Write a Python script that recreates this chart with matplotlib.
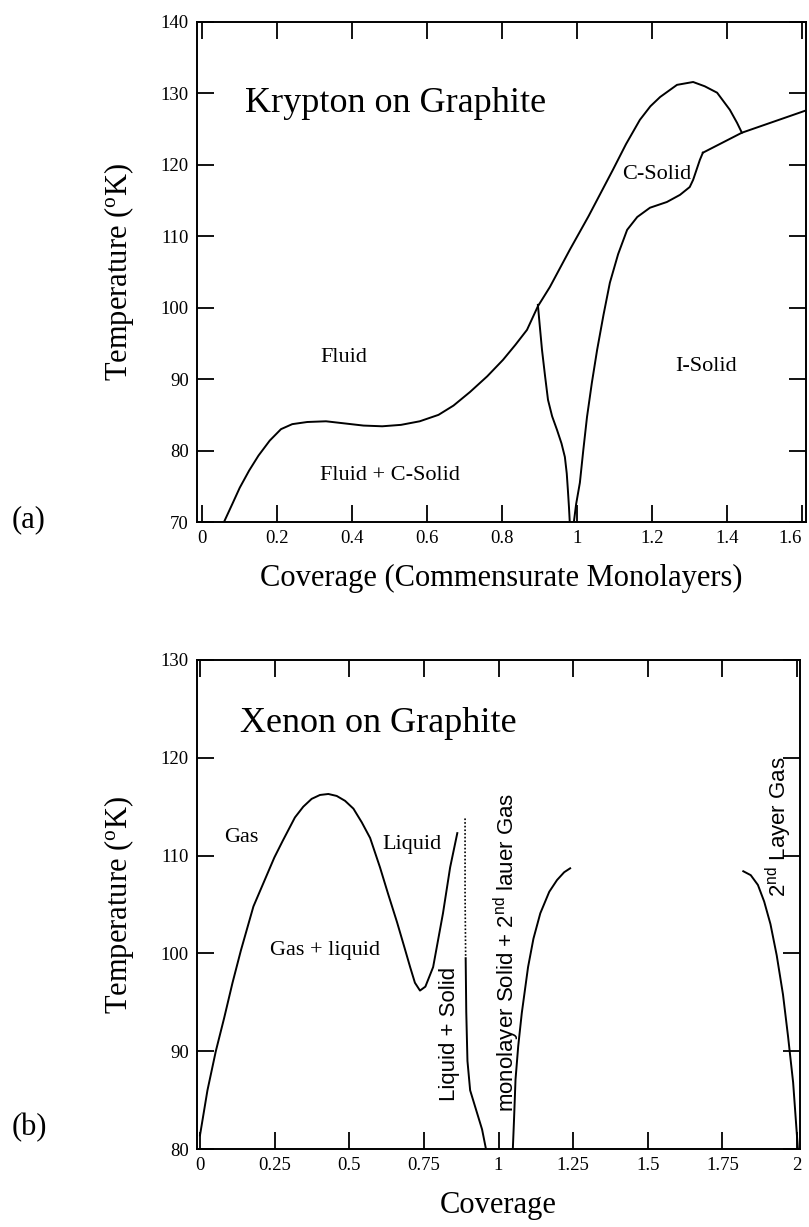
# Phase diagrams of Kr and Xe adsorbed on graphite, two stacked panels.
import matplotlib
matplotlib.use("Agg")
import matplotlib.pyplot as plt
from matplotlib.ticker import FuncFormatter

plt.rcParams["font.family"] = ["Liberation Serif", "DejaVu Serif"]
plt.rcParams["mathtext.default"] = "regular"

# --- Krypton on graphite (panel a)
kr_fluid_x = [0.058, 0.08, 0.10, 0.125, 0.15, 0.18, 0.21, 0.24, 0.28, 0.33,
              0.38, 0.43, 0.48, 0.53, 0.58, 0.63, 0.67, 0.714, 0.76, 0.802,
              0.835, 0.866, 0.895, 0.927, 0.98, 1.03, 1.095, 1.13, 1.167, 1.195,
              1.221, 1.266, 1.309, 1.34, 1.373, 1.407, 1.426, 1.439]
kr_fluid_y = [70, 72.5, 74.8, 77.2, 79.3, 81.4, 83.0, 83.7, 84.0, 84.1,
              83.8, 83.5, 83.4, 83.6, 84.1, 85.0, 86.3, 88.2, 90.4, 92.7,
              94.8, 96.9, 100.2, 102.9, 108.1, 112.8, 119.3, 122.9, 126.3, 128.2,
              129.5, 131.2, 131.6, 131.0, 130.1, 127.7, 125.9, 124.5]
kr_edge_x = [1.335, 1.439, 1.62]
kr_edge_y = [121.7, 124.5, 127.8]
kr_isolid_x = [0.991, 0.997, 1.007, 1.016, 1.026, 1.039, 1.053, 1.07, 1.087, 1.109,
               1.133, 1.16, 1.194, 1.239, 1.274, 1.30, 1.309, 1.318, 1.327, 1.335]
kr_isolid_y = [70, 72.5, 75.5, 80.0, 84.7, 89.5, 94.1, 99.0, 103.5, 107.5,
               110.9, 112.7, 114.0, 114.8, 115.8, 116.9, 117.9, 119.3, 120.7, 121.7]
kr_cusp_x = [0.895, 0.90, 0.906, 0.914, 0.922, 0.933, 0.946, 0.958, 0.967, 0.972,
             0.975, 0.978, 0.98]
kr_cusp_y = [100.4, 97.5, 94.1, 90.5, 87.1, 84.8, 82.9, 81.0, 79.1, 76.8,
             74.5, 72.0, 70]

kr_xticks = [0, 0.2, 0.4, 0.6, 0.8, 1.0, 1.2, 1.4, 1.6]
kr_yticks = [70, 80, 90, 100, 110, 120, 130, 140]

# --- Xenon on graphite (panel b)
xe_dome_x = [0.0, 0.025, 0.053, 0.081, 0.109, 0.137, 0.179, 0.214, 0.249, 0.277,
             0.318, 0.346, 0.374, 0.402, 0.43, 0.458, 0.486, 0.514, 0.542, 0.57,
             0.603, 0.63, 0.66, 0.685, 0.704, 0.72, 0.737, 0.755, 0.781, 0.814,
             0.838, 0.862]
xe_dome_y = [81.4, 86.0, 90.0, 93.4, 97.0, 100.3, 104.8, 107.3, 109.8, 111.5,
             113.9, 115.0, 115.8, 116.2, 116.3, 116.1, 115.6, 114.8, 113.4, 111.8,
             108.8, 106.1, 103.2, 100.6, 98.6, 97.0, 96.2, 96.6, 98.6, 104.1,
             108.8, 112.3]
xe_dot_x = [0.888, 0.888, 0.89]
xe_dot_y = [113.8, 106.0, 99.5]
xe_ls_x = [0.89, 0.892, 0.896, 0.905, 0.925, 0.945, 0.958]
xe_ls_y = [99.5, 94.0, 89.0, 86.0, 84.0, 82.0, 80.0]
xe_mono_x = [1.048, 1.052, 1.057, 1.066, 1.078, 1.099, 1.117, 1.14, 1.17, 1.196,
             1.22, 1.24]
xe_mono_y = [80.0, 83.0, 87.1, 90.5, 93.9, 98.6, 101.5, 104.1, 106.3, 107.5,
             108.3, 108.7]
xe_2nd_x = [1.82, 1.845, 1.869, 1.89, 1.911, 1.932, 1.953, 1.97, 1.987, 2.003]
xe_2nd_y = [108.4, 108.0, 107.0, 105.3, 103.0, 99.8, 95.8, 91.5, 86.8, 80.0]

xe_xticks = [0, 0.25, 0.5, 0.75, 1.0, 1.25, 1.5, 1.75, 2.0]
xe_yticks = [80, 90, 100, 110, 120, 130]

W, H = 809, 1227
fig = plt.figure(figsize=(W / 100, H / 100), dpi=100)
ax1 = fig.add_axes([197 / W, 1 - 522 / H, 609 / W, 500 / H])
ax2 = fig.add_axes([197 / W, 1 - 1149 / H, 603 / W, 489 / H])

fmt = FuncFormatter(lambda v, p: f"{v:g}")
lw = 1.4

def style(ax, xticks, yticks):
    ax.set_xticks(xticks)
    ax.set_yticks(yticks)
    ax.xaxis.set_major_formatter(fmt)
    ax.tick_params(direction="in", length=12, width=1.3, top=True, right=True,
                   labelsize=13.5, pad=6)
    for s in ax.spines.values():
        s.set_linewidth(1.4)

# panel a
ax1.plot(kr_fluid_x, kr_fluid_y, color="black", lw=lw)
ax1.plot(kr_edge_x, kr_edge_y, color="black", lw=lw)
ax1.plot(kr_isolid_x, kr_isolid_y, color="black", lw=lw)
ax1.plot(kr_cusp_x, kr_cusp_y, color="black", lw=lw)
ax1.set_xlim(-0.014, 1.61)
ax1.set_ylim(70, 140)
style(ax1, kr_xticks, kr_yticks)
ax1.get_xticklabels()[-1].set_ha("right")
ax1.set_xlabel("Coverage (Commensurate Monolayers)", fontsize=22, labelpad=12)
ax1.set_ylabel(r"Temperature ($^{o}$K)", fontsize=22, labelpad=18)
ax1.text(0.115, 128.6, "Krypton on Graphite", fontsize=26, va="center")
ax1.text(0.378, 93.1, "Fluid", fontsize=16, ha="center", va="center")
ax1.text(0.50, 76.5, "Fluid + C-Solid", fontsize=16, ha="center", va="center")
ax1.text(1.211, 118.7, "C-Solid", fontsize=16, ha="center", va="center")
ax1.text(1.344, 91.8, "I-Solid", fontsize=16, ha="center", va="center")
fig.text(12 / W, 1 - 520 / H, "(a)", fontsize=22, va="center")

# panel b
ax2.plot(xe_dome_x, xe_dome_y, color="black", lw=lw)
ax2.plot(xe_dot_x, xe_dot_y, color="black", lw=1.2, ls=(0, (1, 1.2)))
ax2.plot(xe_ls_x, xe_ls_y, color="black", lw=lw)
ax2.plot(xe_mono_x, xe_mono_y, color="black", lw=lw)
ax2.plot(xe_2nd_x, xe_2nd_y, color="black", lw=lw)
ax2.set_xlim(-0.01, 2.01)
ax2.set_ylim(80, 130)
style(ax2, xe_xticks, xe_yticks)
ax2.set_xlabel("Coverage", fontsize=22, labelpad=12)
ax2.set_ylabel(r"Temperature ($^{o}$K)", fontsize=22, labelpad=18)
ax2.text(0.135, 123.5, "Xenon on Graphite", fontsize=26, va="center")
ax2.text(0.137, 111.8, "Gas", fontsize=16, ha="center", va="center")
ax2.text(0.71, 111.1, "Liquid", fontsize=16, ha="center", va="center")
ax2.text(0.42, 100.3, "Gas + liquid", fontsize=16, ha="center", va="center")
sans = ["Liberation Sans", "DejaVu Sans"]
ax2.text(0.835, 91.8, "Liquid + Solid", fontsize=16, family=sans,
         rotation=90, ha="center", va="center")
ax2.text(1.027, 100.1, r"monolayer Solid + 2$^{nd}$ lauer Gas", fontsize=16,
         family=sans, rotation=90, ha="center", va="center")
ax2.text(1.938, 113.0, r"2$^{nd}$ Layer Gas", fontsize=16, family=sans,
         rotation=90, ha="center", va="center")
fig.text(12 / W, 1 - 1128 / H, "(b)", fontsize=22, va="center")

fig.savefig("out.png", dpi=100)
